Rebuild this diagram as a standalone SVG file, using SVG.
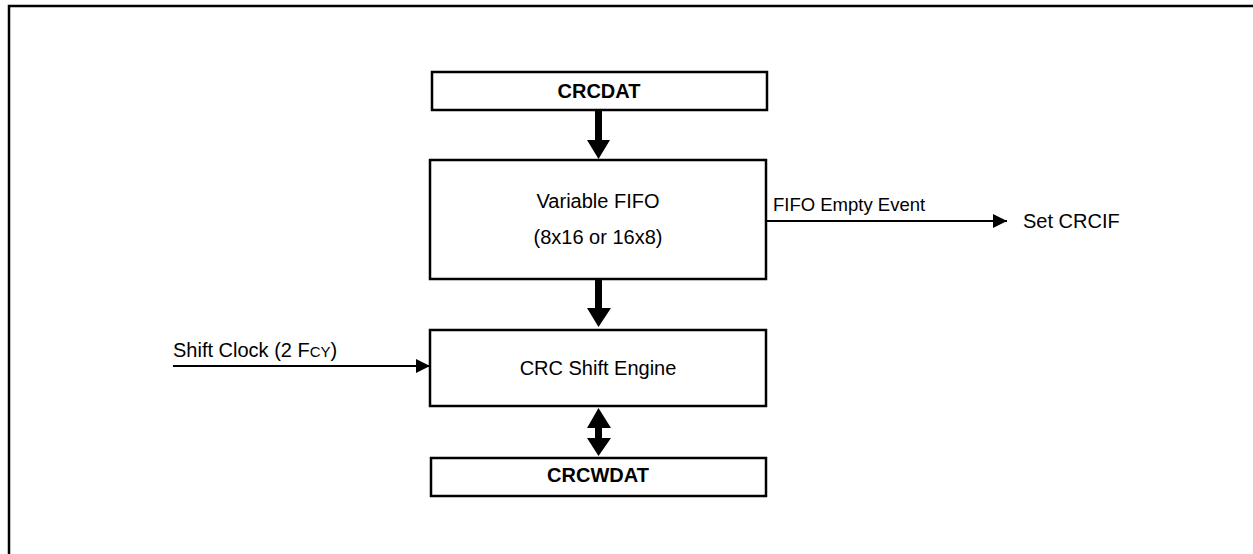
<svg xmlns="http://www.w3.org/2000/svg" width="1253" height="554" viewBox="0 0 1253 554">
<style>
.box{fill:#fff;stroke:#000;stroke-width:2.5}
.t{font-family:"Liberation Sans",Arial,sans-serif;fill:#000;font-size:20px}
.b{font-weight:bold}
.s{font-size:18.5px}
.ln{stroke:#000;stroke-width:2;fill:none}
</style>
<defs>
<marker id="ah" markerWidth="14" markerHeight="14" refX="14" refY="7" orient="auto" markerUnits="userSpaceOnUse">
<path d="M0,0 L14,7 L0,14 Z" fill="#000"/>
</marker>
</defs>
<rect x="9" y="6" width="1260" height="560" fill="none" stroke="#000" stroke-width="2.5"/>
<g id="crcdat">
<rect class="box" x="432" y="72" width="335" height="38"/>
<text class="t b" x="599" y="98" text-anchor="middle">CRCDAT</text>
</g>
<g id="fifo">
<rect class="box" x="430" y="160" width="336" height="119"/>
<text class="t" x="598" y="208" text-anchor="middle">Variable FIFO</text>
<text class="t" x="598" y="244" text-anchor="middle">(8x16 or 16x8)</text>
</g>
<g id="engine">
<rect class="box" x="430" y="330" width="336" height="76"/>
<text class="t" x="598" y="375" text-anchor="middle">CRC Shift Engine</text>
</g>
<g id="crcwdat">
<rect class="box" x="431" y="458" width="335" height="38"/>
<text class="t b" x="598" y="482" text-anchor="middle">CRCWDAT</text>
</g>
<g id="setcrcif">
<text class="t" x="1023" y="228">Set CRCIF</text>
</g>
<g id="connectors">
<path d="M595,111 H602 V140 H610 L598.5,159 L587,140 H595 Z" fill="#000"/>
<path d="M595,279 H602 V308 H611 L598.5,327 L587,308 H595 Z" fill="#000"/>
<path d="M598.5,408 L611,428 H602 V438 H611 L598.5,456 L587,438 H595 V428 H587 Z" fill="#000"/>
<line class="ln" x1="766" y1="221" x2="1007" y2="221" marker-end="url(#ah)"/>
<text class="t s" x="773" y="211">FIFO Empty Event</text>
<line class="ln" x1="173" y1="366" x2="430" y2="366" marker-end="url(#ah)"/>
<text class="t" x="173" y="357">Shift Clock (2 F<tspan style="font-size:15px">CY</tspan>)</text>
</g>
</svg>
